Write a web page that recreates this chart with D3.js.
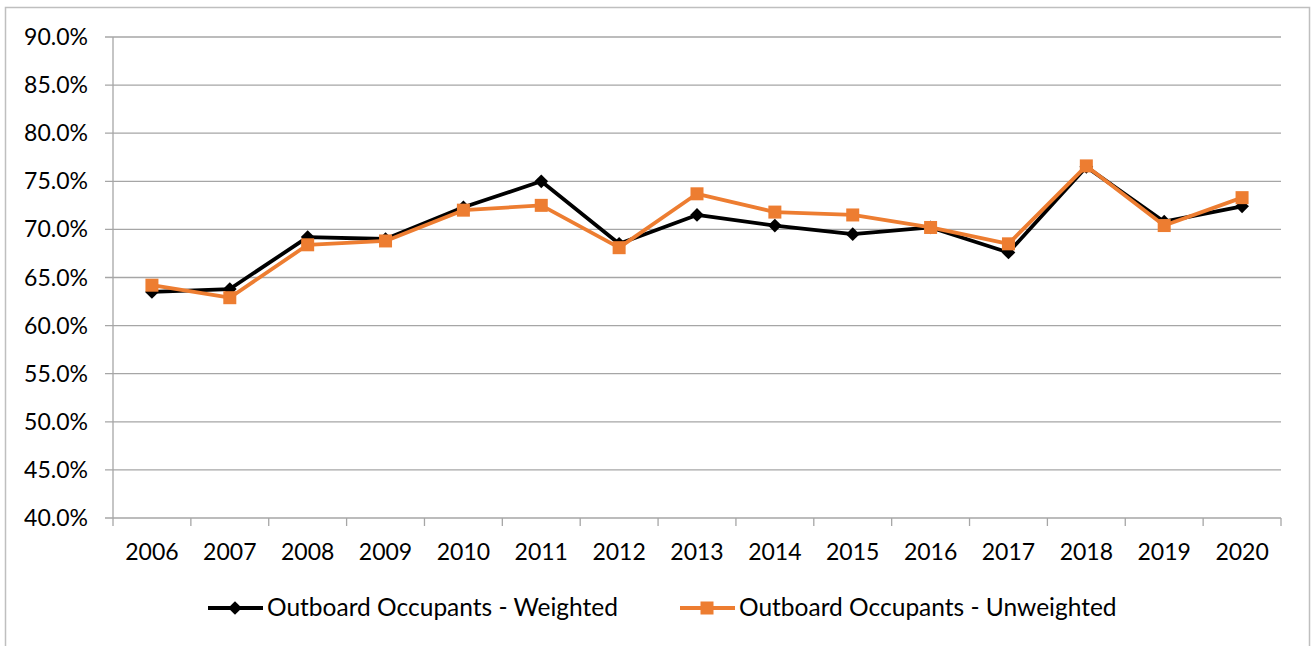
<!DOCTYPE html>
<html>
<head>
<meta charset="utf-8">
<script src="https://cdn.jsdelivr.net/npm/d3@7"></script>
<style>
  body { margin: 0; background: #fff; }
  text { font-family: Lato, "Open Sans", sans-serif; fill: #000; }
</style>
</head>
<body>
<svg id="chart" width="1312" height="646"></svg>
<script>
const years = ["2006", "2007", "2008", "2009", "2010", "2011", "2012", "2013", "2014", "2015", "2016", "2017", "2018", "2019", "2020"];
const weighted = [63.5, 63.8, 69.2, 69.0, 72.3, 75.0, 68.5, 71.5, 70.4, 69.5, 70.2, 67.6, 76.5, 70.8, 72.4];
const unweighted = [64.2, 62.9, 68.4, 68.8, 72.0, 72.5, 68.1, 73.7, 71.8, 71.5, 70.2, 68.5, 76.6, 70.4, 73.3];
const yTicks = [40, 45, 50, 55, 60, 65, 70, 75, 80, 85, 90];
const seriesNames = ["Outboard Occupants - Weighted", "Outboard Occupants - Unweighted"];

const svg = d3.select("#chart");

// chart frame
svg.append("rect")
    .attr("x", 5.5).attr("y", 7.5)
    .attr("width", 1304).attr("height", 660)
    .attr("fill", "none")
    .attr("stroke", "#bfbfbf")
    .attr("stroke-width", 1.5);

const x = d3.scaleBand().domain(years).range([113, 1281]);
const y = d3.scaleLinear().domain([40, 90]).range([518, 37]);

// gridlines
svg.append("g")
    .selectAll("line")
    .data(yTicks)
    .join("line")
    .attr("x1", 105).attr("x2", 1281)
    .attr("y1", d => y(d)).attr("y2", d => y(d))
    .attr("stroke", "#a6a6a6")
    .attr("stroke-width", 1.3);

// y axis line
svg.append("line")
    .attr("x1", 113).attr("x2", 113)
    .attr("y1", y(90)).attr("y2", y(40))
    .attr("stroke", "#a6a6a6")
    .attr("stroke-width", 1.3);

svg.append("g")
    .selectAll("text")
    .data(yTicks)
    .join("text")
    .attr("x", 88)
    .attr("y", d => y(d) + 8)
    .attr("text-anchor", "end")
    .attr("font-size", 23)
    .text(d => d.toFixed(1) + "%");

// x axis ticks at category boundaries
const bounds = years.map(d => x(d)).concat([x.range()[1]]);
svg.append("g")
    .selectAll("line")
    .data(bounds)
    .join("line")
    .attr("x1", d => d).attr("x2", d => d)
    .attr("y1", 518).attr("y2", 526)
    .attr("stroke", "#a6a6a6")
    .attr("stroke-width", 1.3);

svg.append("g")
    .selectAll("text")
    .data(years)
    .join("text")
    .attr("x", d => x(d) + x.bandwidth() / 2)
    .attr("y", 560)
    .attr("text-anchor", "middle")
    .attr("font-size", 23)
    .text(d => d);

const cx = i => x(years[i]) + x.bandwidth() / 2;
const line = d3.line().x((d, i) => cx(i)).y(d => y(d));

const diamond = d3.symbol().type(d3.symbolDiamond2).size(120);

// weighted series
svg.append("path")
    .datum(weighted)
    .attr("d", line)
    .attr("fill", "none")
    .attr("stroke", "#000")
    .attr("stroke-width", 3.8)
    .attr("stroke-linejoin", "round");

svg.append("g")
    .selectAll("path")
    .data(weighted)
    .join("path")
    .attr("transform", (d, i) => `translate(${cx(i)},${y(d)})`)
    .attr("d", diamond)
    .attr("fill", "#000");

// unweighted series
svg.append("path")
    .datum(unweighted)
    .attr("d", line)
    .attr("fill", "none")
    .attr("stroke", "#ed7d31")
    .attr("stroke-width", 3.8)
    .attr("stroke-linejoin", "round");

svg.append("g")
    .selectAll("rect")
    .data(unweighted)
    .join("rect")
    .attr("x", (d, i) => cx(i) - 6.5)
    .attr("y", d => y(d) - 6.5)
    .attr("width", 13).attr("height", 13)
    .attr("fill", "#ed7d31");

// legend
const legend = [
    { name: seriesNames[0], color: "#000", x0: 208, marker: "diamond" },
    { name: seriesNames[1], color: "#ed7d31", x0: 680, marker: "square" }
];
const lg = svg.append("g");
legend.forEach(l => {
    lg.append("line")
        .attr("x1", l.x0).attr("x2", l.x0 + 55)
        .attr("y1", 608).attr("y2", 608)
        .attr("stroke", l.color)
        .attr("stroke-width", 3.8);
    if (l.marker === "diamond") {
        lg.append("path")
            .attr("transform", `translate(${l.x0 + 27},608)`)
            .attr("d", diamond)
            .attr("fill", l.color);
    } else {
        lg.append("rect")
            .attr("x", l.x0 + 27 - 6.5).attr("y", 608 - 6.5)
            .attr("width", 13).attr("height", 13)
            .attr("fill", l.color);
    }
    lg.append("text")
        .attr("x", l.x0 + 59)
        .attr("y", 616)
        .attr("font-size", 24.5)
        .text(l.name);
});
</script>
</body>
</html>
